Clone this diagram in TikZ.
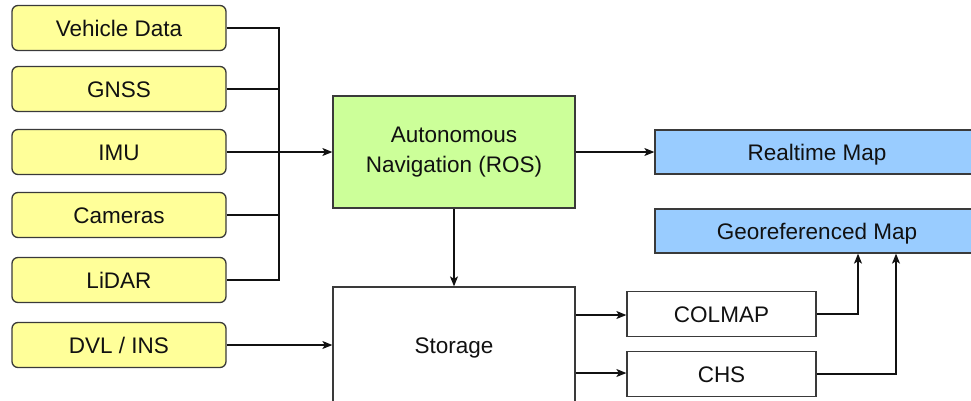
\documentclass[tikz,border=0pt]{standalone}
\usepackage{fontspec}
\setmainfont{Liberation Sans}
\usetikzlibrary{arrows.meta,calc}

\definecolor{srcfill}{HTML}{FFFF99}
\definecolor{navfill}{HTML}{CCFF99}
\definecolor{mapfill}{HTML}{99CCFF}
\definecolor{edge}{HTML}{3A3A3A}
\definecolor{ink}{HTML}{111111}

\tikzset{
  every node/.style={font=\fontsize{22.5}{30}\selectfont, text=ink},
  box/.style={draw=edge, line width=1.3pt, minimum width=#1, inner sep=0pt, align=center},
  capmid/.style={text height=16pt, text depth=0pt},
  srcbox/.style={box=214pt, capmid, minimum height=45pt, fill=srcfill, rounded corners=6pt},
  mapbox/.style={box=324pt, capmid, minimum height=44pt, fill=mapfill},
  procbox/.style={box=189pt, capmid, minimum height=45pt, fill=white},
  wire/.style={draw=ink, line width=1.1pt},
  flow/.style={wire, -{Stealth[length=10pt,width=8pt,inset=2.5pt]}},
}

\begin{document}
\begin{tikzpicture}[x=1pt,y=-1pt]
  \useasboundingbox (0,0) rectangle (971,400);

  % sensor sources
  \node[srcbox] (vd)   at (119,28)  {Vehicle Data};
  \node[srcbox] (gnss) at (119,89)  {GNSS};
  \node[srcbox] (imu)  at (119,152) {IMU};
  \node[srcbox] (cam)  at (119,215) {Cameras};
  \node[srcbox] (lid)  at (119,280) {LiDAR};
  \node[srcbox] (dvl)  at (119,345) {DVL / INS};

  % processing
  \node[box=242pt, minimum height=112pt, fill=navfill] (nav) at (454,152)
       {Autonomous\\Navigation (ROS)};
  \node[box=242pt, capmid, minimum height=116pt, fill=white] (st) at (454,345) {Storage};

  % outputs
  \node[mapbox] (rt)  at (817,152) {Realtime Map};
  \node[mapbox] (geo) at (817,231) {Georeferenced Map};
  \node[procbox] (col) at (721.5,314) {COLMAP};
  \node[procbox] (chs) at (721.5,374) {CHS};

  % sensor bus
  \coordinate (bus) at (279,0);
  \coordinate (g1) at (858,0);
  \coordinate (g2) at (896,0);

  \draw[wire] (vd.east) -- (vd.east -| bus) -- (lid.east -| bus) -- (lid.east);
  \draw[wire] (gnss.east) -- (gnss.east -| bus);
  \draw[wire] (cam.east) -- (cam.east -| bus);
  \draw[flow] (imu.east) -- (nav.west);
  \draw[flow] (dvl.east) -- (st.west);

  \draw[flow] (nav.south) -- (st.north);
  \draw[flow] (nav.east) -- (rt.west);

  \draw[flow] (st.east |- 0,315) -- (col.west |- 0,315);
  \draw[flow] (st.east |- 0,373) -- (chs.west |- 0,373);

  \draw[flow] (col.east) -| (geo.south -| g1);
  \draw[flow] (chs.east) -| (geo.south -| g2);
\end{tikzpicture}
\end{document}
